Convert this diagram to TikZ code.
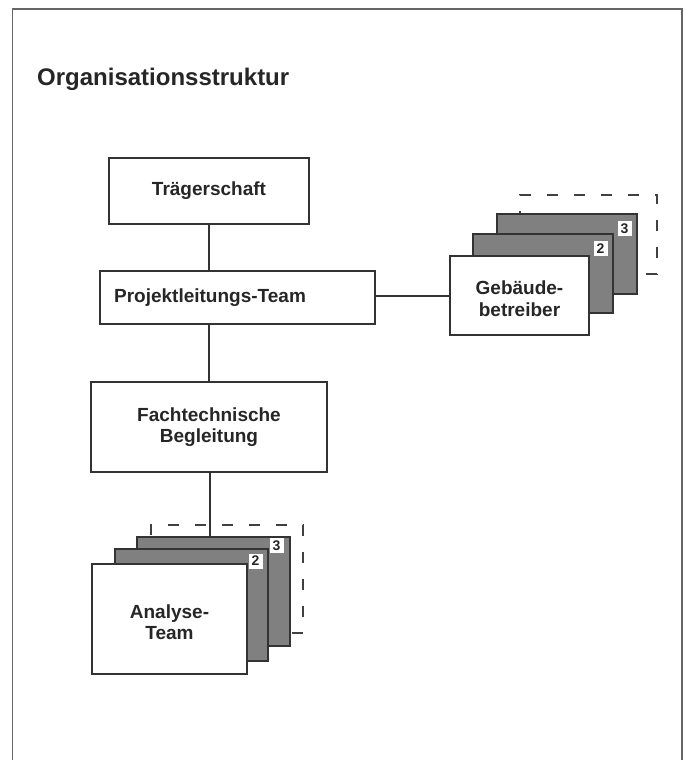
\documentclass[tikz,border=0pt]{standalone}
\usepackage{fontspec}
\setmainfont{Liberation Sans}
\begin{document}
\begin{tikzpicture}[x=1pt,y=-1pt]
\tikzset{
  frameline/.style={draw=black!60, line width=1.8pt},
  boxbase/.style={draw=black!80, line width=1.2pt, anchor=north west, inner sep=0pt, outer sep=0pt},
  whitebox/.style={boxbase, fill=white},
  graybox/.style={boxbase, fill=black!50},
  dashbox/.style={draw=black!75, line width=1.2pt, dash pattern=on 11pt off 16pt},
  conn/.style={draw=black!80, line width=1.2pt},
  boxtext/.style={font=\fontsize{19}{21.5}\selectfont\bfseries, text=black!85, align=center, inner sep=0pt},
  tag/.style={fill=white, inner sep=0pt, minimum width=14pt, minimum height=15pt, font=\fontsize{14}{14}\selectfont\bfseries, text=black!85},
}
\useasboundingbox (0,0) rectangle (685,760);
\fill[white] (0,0) rectangle (685,760);
% frame (open at the bottom)
\draw[frameline] (12.5,775) -- (12.5,9) -- (682,9) -- (682,775);
% title
\node[anchor=base west, inner sep=0pt, font=\fontsize{24}{28}\selectfont\bfseries, text=black!85] (title) at (37,85) {Organisationsstruktur};

% main boxes
\node[whitebox, minimum width=200pt, minimum height=66pt] (traeger) at (109,158) {};
\node[boxtext] (traegertext) at (traeger.center) {Trägerschaft};
\node[whitebox, minimum width=275pt, minimum height=53pt] (plt) at (100,271) {};
\node[boxtext, anchor=center] (plttext) at (210,297.5) {Projektleitungs-Team};
\node[whitebox, minimum width=236pt, minimum height=90pt] (ftb) at (91,382) {};
\node[boxtext] (ftbtext) at (ftb.center) {Fachtechnische\\Begleitung};

% Gebaeude stack
\draw[dashbox] (646,274) -- (657,274) -- (657,195) -- (520,195) -- (520,214);
\node[graybox, minimum width=140pt, minimum height=80pt] (geb3) at (497,214) {};
\node[graybox, minimum width=140pt, minimum height=79pt] (geb2) at (473,234) {};
\node[whitebox, minimum width=139pt, minimum height=79pt] (geb1) at (450,256) {};
\node[boxtext] (gebtext) at ([yshift=-3pt]geb1.center) {Gebäude-\\betreiber};
\node[tag] (geb3tag) at (624.5,228.5) {3};
\node[tag] (geb2tag) at (600.5,248.5) {2};

% Analyse stack
\draw[dashbox] (292,633) -- (303,633) -- (303,525) -- (151,525) -- (151,537);
\node[graybox, minimum width=153pt, minimum height=109pt] (ana3) at (137,537) {};
\node[graybox, minimum width=153pt, minimum height=112pt] (ana2) at (115,549) {};
\node[whitebox, minimum width=155pt, minimum height=110pt] (ana1) at (92,564) {};
\node[boxtext] (anatext) at ([yshift=-3pt]ana1.center) {Analyse-\\Team};
\node[tag] (ana3tag) at (276.5,545.5) {3};
\node[tag] (ana2tag) at (255.5,561) {2};

% connectors
\draw[conn] (traeger.south) -- (traeger.south |- plt.north);
\draw[conn] (traeger.south |- plt.south) -- (ftb.north);
\draw[conn] ([yshift=1.5pt]plt.east) -- ([yshift=1.5pt]plt.east -| geb1.west);
\draw[conn] ([xshift=1pt]ftb.south) -- ([xshift=1pt]ftb.south |- ana3.north);
\end{tikzpicture}
\end{document}
